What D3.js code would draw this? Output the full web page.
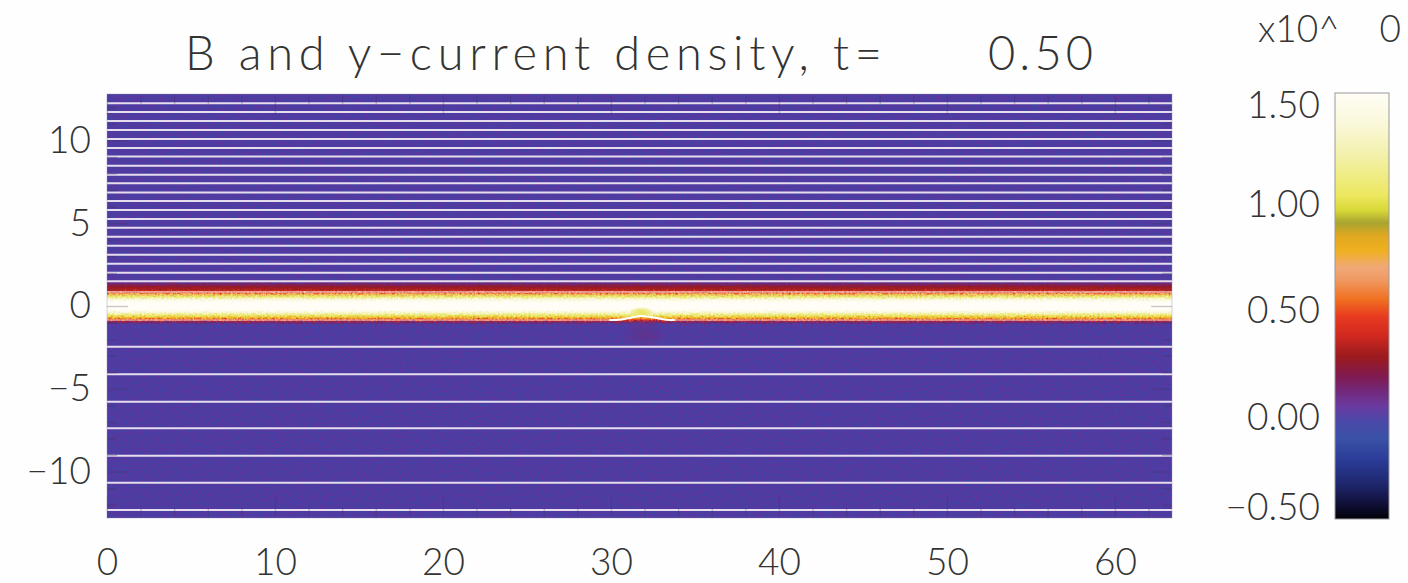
<!DOCTYPE html>
<html><head><meta charset="utf-8">
<script src="https://cdn.jsdelivr.net/npm/d3@7"></script>
<style>
html,body{margin:0;padding:0;background:#fefefe;}
svg{display:block;}
text{font-family:Lato,"Open Sans","DejaVu Sans",sans-serif;font-weight:300;fill:#333;}
</style></head><body>
<svg id="chart" width="1408" height="583"></svg>
<script>
// ---- data ----
const xTicks = [0, 10, 20, 30, 40, 50, 60];
const xMinor = [2, 4, 6, 8, 12, 14, 16, 18, 22, 24, 26, 28, 32, 34, 36, 38, 42, 44, 46, 48, 52, 54, 56, 58, 62];
const yTicks = [-10, -5, 0, 5, 10];
const yMinor = [-12, -11, -9, -8, -7, -6, -4, -3, -2, -1, 1, 2, 3, 4, 6, 7, 8, 9, 11, 12];
const xDomain = [0, 63.4];
const yDomain = [-12.8, 12.8];

// magnetic field lines (contours of flux) as y positions
const fieldLinesAbove = [12.24, 11.71, 11.17, 10.63, 10.08, 9.54, 9.02, 8.47, 7.93, 7.41, 6.86,
                         6.34, 5.80, 5.25, 4.73, 4.18, 3.64, 3.10, 2.55, 2.01, 1.49];
const fieldLinesBelow = [-2.46, -4.12, -5.78, -7.38, -9.04, -10.67, -12.32];
const sheetTopLine = 0.85;
const sheetBottomX = [0, 30.2, 30.9, 31.4, 31.8, 32.3, 32.9, 33.5, 63.4];
const sheetBottomY = [-0.85, -0.85, -0.76, -0.66, -0.60, -0.65, -0.76, -0.85, -0.85];

// y-current density across the sheet
const sheetY = [1.57, 1.33, 1.15, 0.97, 0.85, 0.72, 0.60, 0.42, 0.24, -0.24, -0.42, -0.60, -0.72, -0.85, -0.97, -1.15];
const sheetJ = [0.00, 0.12, 0.25, 0.30, 0.45, 0.70, 1.00, 1.35, 1.50, 1.50, 1.30, 1.00, 0.75, 0.45, 0.15, 0.00];

// local disturbance near x ~ 32
const dip = {x: 31.8, y: -0.36, j: 1.0, rx: 0.75, ry: 0.3};
const wake = {x: 32.0, y: -1.7, j: 0.12, rx: 1.3, ry: 0.8};

// colour table
const cmapV = [-0.50, -0.42, -0.33, -0.22, -0.12, -0.04, 0.03, 0.10, 0.17, 0.26, 0.36, 0.45, 0.53, 0.62, 0.68, 0.76, 0.83, 0.89, 0.95, 1.02, 1.20, 1.35, 1.50];
const cmapC = ["#000008", "#12123e", "#1f2870", "#2b3c98", "#3a52a8", "#4a48a8", "#6a3aa0", "#72287a", "#801a50", "#9a1a1e",
               "#d02820", "#e83a20", "#f07020", "#f09860", "#f0a878", "#f0b020", "#e0a820", "#a8a430", "#d8d838", "#ece860",
               "#f2f0a8", "#faf8d8", "#fffdf6"];
const cbTicks = [-0.5, 0.0, 0.5, 1.0, 1.5];
const cbExponent = "0";
const timeLabel = "0.50";

// ---- scales ----
const x = d3.scaleLinear().domain(xDomain).range([107, 1172]);
const y = d3.scaleLinear().domain(yDomain).range([518, 94]);
const color = d3.scaleLinear().domain(cmapV).range(cmapC).interpolate(d3.interpolateRgb).clamp(true);
const cbY = d3.scaleLinear().domain([-0.5, 1.5]).range([519, 93]);

const svg = d3.select("#chart");
const defs = svg.append("defs");

defs.append("clipPath").attr("id", "plotClip").append("rect")
  .attr("x", x(xDomain[0])).attr("y", y(yDomain[1]))
  .attr("width", x(xDomain[1]) - x(xDomain[0])).attr("height", y(yDomain[0]) - y(yDomain[1]));

// particle-noise grain on the background
const grain = defs.append("filter").attr("id", "grain").attr("x", 0).attr("y", 0).attr("width", 1).attr("height", 1)
  .attr("color-interpolation-filters", "sRGB");
grain.append("feTurbulence").attr("type", "fractalNoise").attr("baseFrequency", "0.55").attr("numOctaves", 2).attr("seed", 7).attr("result", "n");
grain.append("feColorMatrix").attr("in", "n").attr("type", "matrix")
  .attr("values", "0 0 0 0 0.20  0 0 0 0 0.30  0 0 0 0 0.70  2.4 0 0 0 -1.05").attr("result", "blue");
grain.append("feColorMatrix").attr("in", "n").attr("type", "matrix")
  .attr("values", "0 0 0 0 0.42  0 0 0 0 0.18  0 0 0 0 0.60  0 2.4 0 0 -1.05").attr("result", "purp");
const gm = grain.append("feMerge");
gm.append("feMergeNode").attr("in", "blue");
gm.append("feMergeNode").attr("in", "purp");

// ragged edges of the current sheet
const rag = defs.append("filter").attr("id", "rag").attr("x", "-5%").attr("y", "-50%").attr("width", "110%").attr("height", "200%")
  .attr("color-interpolation-filters", "sRGB");
rag.append("feTurbulence").attr("type", "fractalNoise").attr("baseFrequency", "0.45").attr("numOctaves", 2).attr("seed", 3).attr("result", "t");
rag.append("feDisplacementMap").attr("in", "SourceGraphic").attr("in2", "t").attr("scale", 5)
  .attr("xChannelSelector", "R").attr("yChannelSelector", "G");

// sheet profile gradient
const sg = defs.append("linearGradient").attr("id", "sheetGrad").attr("gradientUnits", "userSpaceOnUse")
  .attr("x1", 0).attr("x2", 0).attr("y1", y(sheetY[0])).attr("y2", y(sheetY[sheetY.length - 1]));
const y0px = y(sheetY[0]), y1px = y(sheetY[sheetY.length - 1]);
sheetY.forEach((v, i) => {
  sg.append("stop").attr("offset", (y(v) - y0px) / (y1px - y0px))
    .attr("stop-color", color(sheetJ[i])).attr("stop-opacity", Math.min(1, sheetJ[i] / 0.12));
});

// colour bar gradient
const cg = defs.append("linearGradient").attr("id", "cbGrad").attr("x1", 0).attr("x2", 0).attr("y1", 1).attr("y2", 0);
cmapV.forEach((v, i) => {
  cg.append("stop").attr("offset", (v - cmapV[0]) / (cmapV[cmapV.length - 1] - cmapV[0])).attr("stop-color", cmapC[i]);
});

// blobs
function blobGrad(id, c, op) {
  const g = defs.append("radialGradient").attr("id", id);
  g.append("stop").attr("offset", 0).attr("stop-color", c).attr("stop-opacity", op);
  g.append("stop").attr("offset", 0.6).attr("stop-color", c).attr("stop-opacity", op * 0.6);
  g.append("stop").attr("offset", 1).attr("stop-color", c).attr("stop-opacity", 0);
}
blobGrad("dipGrad", color(dip.j), 0.95);
blobGrad("wakeGrad", color(wake.j), 0.35);

// ---- plot area ----
const plot = svg.append("g").attr("clip-path", "url(#plotClip)");
const px0 = x(xDomain[0]), px1 = x(xDomain[1]), py0 = y(yDomain[1]), py1 = y(yDomain[0]);

plot.append("rect").attr("x", px0).attr("y", py0).attr("width", px1 - px0).attr("height", py1 - py0)
  .attr("fill", "#4f3ca0");
plot.append("rect").attr("x", px0).attr("y", py0).attr("width", px1 - px0).attr("height", py1 - py0)
  .attr("fill", "#fff").attr("filter", "url(#grain)");

plot.append("g").attr("filter", "url(#rag)").append("rect")
  .attr("x", px0 - 10).attr("y", y(sheetY[0])).attr("width", px1 - px0 + 20)
  .attr("height", y(sheetY[sheetY.length - 1]) - y(sheetY[0]))
  .attr("fill", "url(#sheetGrad)");

plot.append("ellipse").attr("cx", x(wake.x)).attr("cy", y(wake.y))
  .attr("rx", x(wake.rx) - x(0)).attr("ry", y(0) - y(wake.ry)).attr("fill", "url(#wakeGrad)");
plot.append("ellipse").attr("cx", x(dip.x)).attr("cy", y(dip.y))
  .attr("rx", x(dip.rx) - x(0)).attr("ry", y(0) - y(dip.ry)).attr("fill", "url(#dipGrad)");

// field lines
const lineColor = "#f3ecf4";
const straight = fieldLinesAbove.concat(fieldLinesBelow);
plot.selectAll("line.fl").data(straight).join("line").attr("class", "fl")
  .attr("x1", px0).attr("x2", px1).attr("y1", d => y(d)).attr("y2", d => y(d))
  .attr("stroke", lineColor).attr("stroke-width", 2).attr("stroke-opacity", 0.92);
plot.append("line").attr("x1", px0).attr("x2", px1).attr("y1", y(sheetTopLine)).attr("y2", y(sheetTopLine))
  .attr("stroke", lineColor).attr("stroke-width", 1.6).attr("stroke-opacity", 0.55);

const bottomLine = d3.line().x(d => x(d[0])).y(d => y(d[1])).curve(d3.curveMonotoneX);
const bottomPts = sheetBottomX.map((v, i) => [v, sheetBottomY[i]]);
plot.append("path").attr("d", bottomLine(bottomPts)).attr("fill", "none")
  .attr("stroke", lineColor).attr("stroke-width", 1.6).attr("stroke-opacity", 0.45);
defs.append("clipPath").attr("id", "bumpClip").append("rect")
  .attr("x", x(29.9)).attr("y", y(0)).attr("width", x(33.8) - x(29.9)).attr("height", 40);
plot.append("path").attr("d", bottomLine(bottomPts)).attr("fill", "none").attr("clip-path", "url(#bumpClip)")
  .attr("stroke", "#ffffff").attr("stroke-width", 2);

// ---- axes (IDL style ticks pointing inward) ----
const tickColor = "rgba(60,55,80,0.28)";
function styleAxis(g) {
  g.select(".domain").remove();
  g.selectAll(".tick line").attr("stroke", tickColor).attr("stroke-width", 1.3);
  g.selectAll("text").attr("font-size", 37).attr("fill", "#333")
    .style("font-family", 'Lato,"Open Sans","DejaVu Sans",sans-serif').style("font-weight", 300);
}
const fmt = d3.format("d");
svg.append("g").attr("transform", `translate(${px0},0)`)
  .call(d3.axisLeft(y).tickValues(yTicks).tickSize(-21).tickPadding(16).tickFormat(fmt)).call(styleAxis);
svg.append("g").attr("transform", `translate(${px0},0)`)
  .call(d3.axisLeft(y).tickValues(yMinor).tickSize(-10).tickFormat("")).call(styleAxis);
svg.append("g").attr("transform", `translate(${px1},0)`)
  .call(d3.axisRight(y).tickValues(yTicks).tickSize(-21).tickFormat("")).call(styleAxis);
svg.append("g").attr("transform", `translate(${px1},0)`)
  .call(d3.axisRight(y).tickValues(yMinor).tickSize(-10).tickFormat("")).call(styleAxis);
svg.append("g").attr("transform", `translate(0,${py1})`)
  .call(d3.axisBottom(x).tickValues(xTicks).tickSize(-21).tickPadding(31).tickFormat(fmt)).call(styleAxis);
svg.append("g").attr("transform", `translate(0,${py1})`)
  .call(d3.axisBottom(x).tickValues(xMinor).tickSize(-10).tickFormat("")).call(styleAxis);
svg.append("g").attr("transform", `translate(0,${py0})`)
  .call(d3.axisTop(x).tickValues(xTicks).tickSize(-21).tickFormat("")).call(styleAxis);
svg.append("g").attr("transform", `translate(0,${py0})`)
  .call(d3.axisTop(x).tickValues(xMinor).tickSize(-10).tickFormat("")).call(styleAxis);

svg.append("rect").attr("x", px0).attr("y", py0).attr("width", px1 - px0).attr("height", py1 - py0)
  .attr("fill", "none").attr("stroke", "rgba(150,140,180,0.4)").attr("stroke-width", 1);

// ---- title ----
svg.append("text").attr("x", 185).attr("y", 70).attr("font-size", 47)
  .attr("textLength", 697).attr("lengthAdjust", "spacing")
  .text("B and y\u2212current density, t=");
svg.append("text").attr("x", 988).attr("y", 70).attr("font-size", 47)
  .attr("textLength", 105).attr("lengthAdjust", "spacing").text(timeLabel);

// ---- colour bar ----
const cbX0 = 1335, cbX1 = 1389;
svg.append("rect").attr("x", cbX0).attr("y", cbY(1.5)).attr("width", cbX1 - cbX0).attr("height", cbY(-0.5) - cbY(1.5))
  .attr("fill", "url(#cbGrad)").attr("stroke", "#999").attr("stroke-width", 1);
const cbFmt = d3.format(".2f");
svg.selectAll("text.cb").data(cbTicks).join("text").attr("class", "cb")
  .attr("x", 1320).attr("text-anchor", "end").attr("font-size", 37)
  .attr("y", d => Math.max(cbY(1.5) + 25, Math.min(cbY(-0.5) + 1, cbY(d) + 17)))
  .text(d => cbFmt(d));
svg.append("text").attr("x", 1258).attr("y", 42).attr("font-size", 37).text("x10^");
svg.append("text").attr("x", 1401).attr("y", 42).attr("font-size", 37).attr("text-anchor", "end").text(cbExponent);
</script>
</body></html>
